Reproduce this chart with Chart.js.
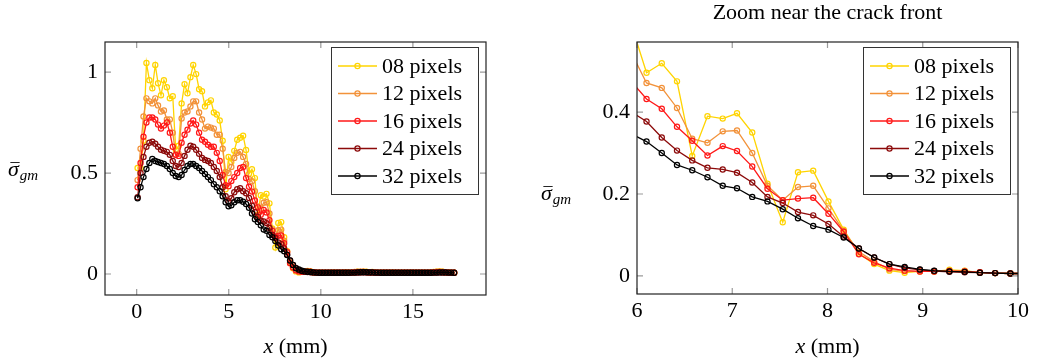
<!DOCTYPE html>
<html>
<head>
<meta charset="utf-8">
<script src="https://cdn.jsdelivr.net/npm/chart.js@4.4.1/dist/chart.umd.min.js"></script>
<style>
  body { margin: 0; background: #fff; }
  .panel { position: absolute; top: 0; }
</style>
</head>
<body>
<div class="panel" style="left:0"><canvas id="full" width="520" height="363"></canvas></div>
<div class="panel" style="left:520px"><canvas id="zoom" width="520" height="363"></canvas></div>
<script>
// x positions (mm) of the sampled points
var xs = [0.05,0.21,0.37,0.53,0.69,0.85,1.01,1.16,1.32,1.48,
  1.64,1.80,1.96,2.12,2.28,2.44,2.60,2.76,2.92,3.07,
  3.23,3.39,3.55,3.71,3.87,4.03,4.19,4.35,4.51,4.67,
  4.83,4.99,5.14,5.30,5.46,5.62,5.78,5.94,6.10,6.26,
  6.42,6.58,6.74,6.90,7.05,7.21,7.37,7.53,7.69,7.85,
  8.01,8.17,8.33,8.49,8.65,8.81,8.97,9.12,9.28,9.44,
  9.60,9.76,9.92,10.08,10.24,10.40,10.56,10.72,10.88,11.03,
  11.19,11.35,11.51,11.67,11.83,11.99,12.15,12.31,12.47,12.63,
  12.79,12.95,13.10,13.26,13.42,13.58,13.74,13.90,14.06,14.22,
  14.38,14.54,14.70,14.86,15.01,15.17,15.33,15.49,15.65,15.81,
  15.97,16.13,16.29,16.45,16.61,16.77,16.93,17.08,17.24];

var px08 = [0.525,0.525,0.66,1.045,0.96,0.92,1.035,0.945,0.885,0.96,
  0.925,0.87,0.88,0.615,0.635,0.845,0.94,0.895,0.975,1.035,
  0.99,0.915,0.905,0.83,0.85,0.86,0.80,0.79,0.76,0.66,
  0.42,0.58,0.555,0.61,0.665,0.675,0.685,0.614,
  0.496,0.519,0.475,0.293,0.390,0.384,0.397,0.350,0.225,0.131,
  0.253,0.257,0.182,0.113,0.055,0.029,0.013,0.008,0.011,0.011,
  0.015,0.013,0.008,0.007,0.006,
  0.006,0.007,0.006,0.006,0.008,0.007,0.006,0.007,0.009,0.008,
  0.007,0.009,0.011,0.010,0.012,0.011,0.009,0.010,0.008,0.007,
  0.006,0.007,0.006,0.006,0.008,0.007,0.006,0.007,0.006,0.006,
  0.007,0.006,0.006,0.007,0.006,0.006,0.007,0.008,0.010,0.012,
  0.013,0.011,0.009,0.008,0.007,0.006];

var px12 = [0.465,0.62,0.78,0.87,0.855,0.845,0.87,0.835,0.805,0.81,
  0.765,0.765,0.70,0.59,0.595,0.77,0.80,0.805,0.83,0.855,
  0.855,0.80,0.765,0.72,0.73,0.725,0.72,0.69,0.69,0.62,
  0.505,0.50,0.53,0.575,0.60,0.605,0.58,0.545,
  0.471,0.459,0.410,0.335,0.325,0.353,0.355,0.300,0.220,0.185,
  0.217,0.220,0.165,0.110,0.059,0.035,0.016,0.012,0.011,0.011,
  0.013,0.012,0.009,0.007,0.006,
  0.006,0.006,0.007,0.006,0.007,0.007,0.006,0.008,0.008,0.007,
  0.008,0.010,0.011,0.011,0.012,0.010,0.009,0.009,0.008,0.007,
  0.006,0.006,0.007,0.006,0.007,0.006,0.006,0.006,0.007,0.006,
  0.006,0.006,0.006,0.007,0.006,0.006,0.007,0.008,0.009,0.011,
  0.012,0.011,0.009,0.008,0.007,0.006];

var px16 = [0.43,0.55,0.68,0.75,0.775,0.775,0.765,0.74,0.72,0.735,
  0.75,0.70,0.63,0.59,0.585,0.65,0.69,0.715,0.745,0.76,
  0.74,0.70,0.665,0.655,0.64,0.63,0.63,0.60,0.56,0.49,
  0.44,0.435,0.46,0.48,0.50,0.525,0.53,0.475,
  0.432,0.408,0.364,0.330,0.294,0.317,0.305,0.267,0.213,0.185,
  0.189,0.191,0.152,0.108,0.053,0.032,0.019,0.013,0.011,0.011,
  0.012,0.011,0.009,0.007,0.006,
  0.006,0.006,0.006,0.007,0.006,0.006,0.007,0.007,0.006,0.007,
  0.007,0.008,0.009,0.010,0.010,0.009,0.008,0.008,0.007,0.006,
  0.006,0.006,0.006,0.007,0.006,0.006,0.006,0.006,0.006,0.006,
  0.006,0.006,0.006,0.006,0.006,0.006,0.006,0.007,0.008,0.009,
  0.010,0.009,0.008,0.007,0.006,0.006];

var px24 = [0.38,0.50,0.58,0.63,0.65,0.655,0.645,0.63,0.615,0.61,
  0.605,0.59,0.56,0.535,0.53,0.55,0.585,0.615,0.635,0.63,
  0.615,0.595,0.575,0.565,0.56,0.55,0.53,0.51,0.48,0.43,
  0.385,0.36,0.375,0.405,0.42,0.425,0.41,0.40,
  0.377,0.338,0.306,0.282,0.264,0.260,0.252,0.228,0.193,0.178,
  0.156,0.148,0.127,0.096,0.067,0.045,0.029,0.020,0.015,0.012,
  0.010,0.009,0.008,0.007,0.006,
  0.006,0.006,0.006,0.006,0.006,0.006,0.006,0.006,0.006,0.006,
  0.007,0.007,0.008,0.008,0.009,0.009,0.008,0.008,0.007,0.007,
  0.006,0.006,0.006,0.006,0.006,0.006,0.006,0.006,0.006,0.006,
  0.006,0.006,0.006,0.006,0.006,0.006,0.006,0.006,0.007,0.007,
  0.008,0.008,0.008,0.007,0.007,0.006];

var px32 = [0.375,0.43,0.48,0.52,0.55,0.57,0.56,0.555,0.55,0.545,
  0.535,0.52,0.50,0.485,0.48,0.49,0.515,0.535,0.545,0.545,
  0.535,0.525,0.51,0.495,0.48,0.465,0.445,0.43,0.41,0.385,
  0.355,0.335,0.34,0.355,0.365,0.365,0.358,0.347,
  0.328,0.300,0.271,0.258,0.241,0.220,0.214,0.193,0.182,0.163,
  0.141,0.122,0.113,0.094,0.067,0.045,0.029,0.022,0.016,0.013,
  0.011,0.010,0.008,0.007,0.006,
  0.006,0.006,0.006,0.006,0.006,0.006,0.006,0.006,0.006,0.006,
  0.007,0.007,0.008,0.009,0.009,0.009,0.008,0.008,0.007,0.007,
  0.006,0.006,0.006,0.006,0.006,0.006,0.006,0.006,0.006,0.006,
  0.006,0.006,0.006,0.006,0.006,0.006,0.006,0.006,0.007,0.007,
  0.008,0.008,0.008,0.007,0.007,0.006];

var names = ['08 pixels', '12 pixels', '16 pixels', '24 pixels', '32 pixels'];
var series = [px08, px12, px16, px24, px32];
var colors = ['rgb(255,212,0)', 'rgb(242,146,58)', 'rgb(255,24,24)', 'rgb(140,10,10)', 'rgb(0,0,0)'];

var fullXTicks = [0, 5, 10, 15];
var fullYTicks = [0, 0.5, 1];
var zoomXTicks = [6, 7, 8, 9, 10];
var zoomYTicks = [0, 0.2, 0.4];

var FONT = "'Liberation Serif', 'Times New Roman', serif";
Chart.defaults.font.family = FONT;
Chart.defaults.font.size = 22;
Chart.defaults.color = '#000';

function makeDatasets() {
    return series.map(function (s, i) {
        return {
            label: names[i],
            data: xs.map(function (x, k) { return { x: x, y: s[k] }; }),
            borderColor: colors[i],
            pointBorderColor: colors[i],
            pointBackgroundColor: 'rgba(255,255,255,0)',
            pointRadius: 2.6,
            pointBorderWidth: 1.2,
            borderWidth: 1.3,
            showLine: true,
            order: 5 - i
        };
    });
}

// pgfplots-like frame, inward ticks, boxed legend and axis labels
var frame = {
    id: 'frame',
    afterDraw: function (chart, args, o) {
        var ctx = chart.ctx, a = chart.chartArea, sx = chart.scales.x, sy = chart.scales.y;
        ctx.save();
        ctx.strokeStyle = '#9a9a9a';
        ctx.lineWidth = 1.2;
        ctx.beginPath();
        sx.ticks.forEach(function (t) {
            var p = sx.getPixelForValue(t.value);
            ctx.moveTo(p, a.bottom); ctx.lineTo(p, a.bottom - 6);
            ctx.moveTo(p, a.top); ctx.lineTo(p, a.top + 6);
        });
        sy.ticks.forEach(function (t) {
            var p = sy.getPixelForValue(t.value);
            ctx.moveTo(a.left, p); ctx.lineTo(a.left + 6, p);
            ctx.moveTo(a.right, p); ctx.lineTo(a.right - 6, p);
        });
        ctx.stroke();
        ctx.strokeStyle = '#222';
        ctx.lineWidth = 1.2;
        ctx.strokeRect(a.left, a.top, a.right - a.left, a.bottom - a.top);

        // legend
        var bw = 147, bh = 147, bx = a.right - 8 - bw, by = a.top + 5;
        ctx.fillStyle = '#fff';
        ctx.fillRect(bx, by, bw, bh);
        ctx.strokeStyle = '#333';
        ctx.lineWidth = 1;
        ctx.strokeRect(bx + 0.5, by + 0.5, bw, bh);
        ctx.font = '22px ' + FONT;
        ctx.textBaseline = 'middle';
        ctx.textAlign = 'left';
        chart.data.datasets.forEach(function (d, i) {
            var cy = by + 19 + i * 27.5;
            ctx.strokeStyle = d.borderColor;
            ctx.lineWidth = 1.3;
            ctx.beginPath();
            ctx.moveTo(bx + 7, cy); ctx.lineTo(bx + 46, cy);
            ctx.stroke();
            ctx.lineWidth = 1.2;
            ctx.beginPath();
            ctx.arc(bx + 26.5, cy, 2.6, 0, Math.PI * 2);
            ctx.stroke();
            ctx.fillStyle = '#000';
            ctx.fillText(d.label, bx + 51, cy + 1);
        });

        // x label
        var cx = (a.left + a.right) / 2;
        ctx.font = 'italic 22px ' + FONT;
        var w1 = ctx.measureText('x').width;
        ctx.font = '22px ' + FONT;
        var w2 = ctx.measureText(' (mm)').width;
        var sx0 = cx - (w1 + w2) / 2;
        ctx.font = 'italic 22px ' + FONT;
        ctx.fillText('x', sx0, o.xly);
        ctx.font = '22px ' + FONT;
        ctx.fillText(' (mm)', sx0 + w1, o.xly);

        // y label: sigma with a bar, subscript gm
        ctx.font = 'italic 22px ' + FONT;
        ctx.fillText('\u03c3', o.ylx, o.yly);
        var ws = ctx.measureText('\u03c3').width;
        ctx.font = '18px ' + FONT;
        ctx.textAlign = 'center';
        ctx.fillText('\u00af', o.ylx + ws / 2 + 1.5, o.yly + 1);
        ctx.textAlign = 'left';
        ctx.font = 'italic 15px ' + FONT;
        ctx.fillText('gm', o.ylx + ws + 1, o.yly + 6);

        if (o.title) {
            ctx.font = '22px ' + FONT;
            ctx.textAlign = 'center';
            ctx.fillText(o.title, cx, 13);
        }
        ctx.restore();
    }
};

function makeChart(id, xr, yr, xt, yt, yw, xh, padRight, labelOpts) {
    return new Chart(document.getElementById(id), {
        type: 'scatter',
        data: { datasets: makeDatasets() },
        options: {
            responsive: false,
            animation: false,
            devicePixelRatio: 1,
            layout: { padding: { top: 42, right: padRight, left: 0, bottom: 0 } },
            scales: {
                x: {
                    type: 'linear', min: xr[0], max: xr[1],
                    grid: { display: false, drawTicks: false },
                    border: { display: false },
                    afterBuildTicks: function (s) { s.ticks = xt.map(function (v) { return { value: v }; }); },
                    afterFit: function (s) { s.height = xh; },
                    ticks: { padding: 4, maxRotation: 0, callback: function (v) { return String(v); } }
                },
                y: {
                    type: 'linear', min: yr[0], max: yr[1],
                    grid: { display: false, drawTicks: false },
                    border: { display: false },
                    afterBuildTicks: function (s) { s.ticks = yt.map(function (v) { return { value: v }; }); },
                    afterFit: function (s) { s.width = yw; },
                    ticks: { padding: 7, callback: function (v) { return String(v); } }
                }
            },
            plugins: {
                legend: { display: false },
                tooltip: { enabled: false },
                frame: labelOpts
            }
        },
        plugins: [frame]
    });
}

var fullChart = makeChart('full', [-1.72, 18.97], [-0.104, 1.149], fullXTicks, fullYTicks,
    105, 68, 34, { xly: 347, ylx: 8, yly: 170 });
var zoomChart = makeChart('zoom', [6, 10], [-0.044, 0.571], zoomXTicks, zoomYTicks,
    117, 69, 22, { xly: 347, ylx: 21, yly: 194, title: 'Zoom near the crack front' });
</script>
</body>
</html>
